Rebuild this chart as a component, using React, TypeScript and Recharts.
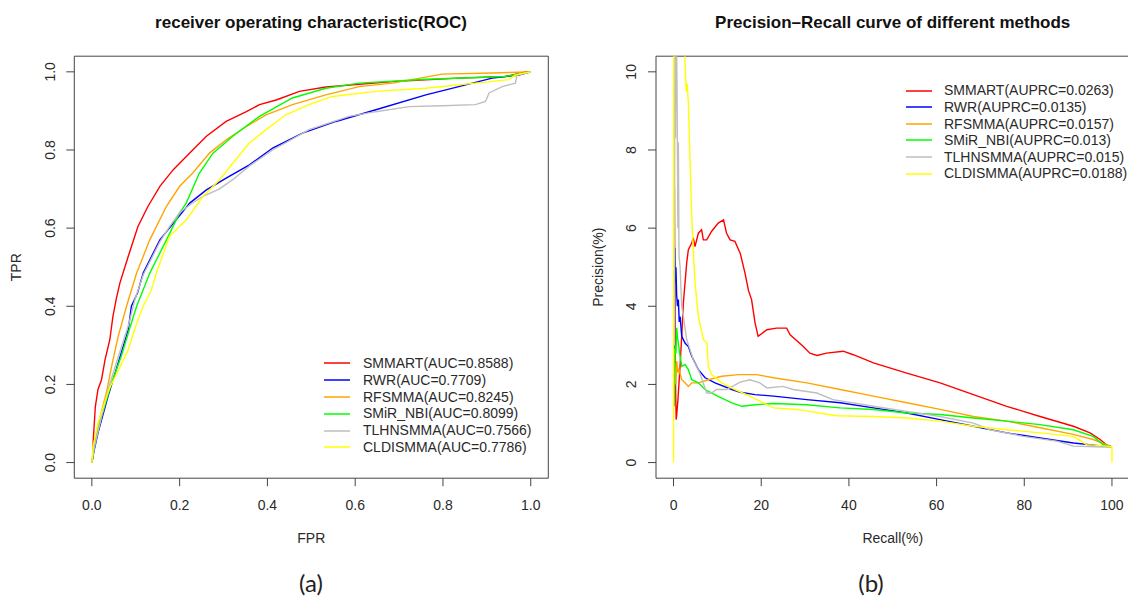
import React from 'react';
import { LineChart, Line, XAxis, YAxis, ReferenceArea, Legend } from 'recharts';

const FONT = '"Liberation Sans", Arial, Helvetica, sans-serif';

const methodNames = ['SMMART', 'RWR', 'RFSMMA', 'SMiR_NBI', 'TLHNSMMA', 'CLDISMMA'];
const methodColors = ['#FF0000', '#0000FF', '#FFA500', '#00FF00', '#BEBEBE', '#FFFF00'];
const aucValues = ['0.8588', '0.7709', '0.8245', '0.8099', '0.7566', '0.7786'];
const auprcValues = ['0.0263', '0.0135', '0.0157', '0.013', '0.015', '0.0188'];

const rocTicks = [0, 0.2, 0.4, 0.6, 0.8, 1.0];
const prXTicks = [0, 20, 40, 60, 80, 100];
const prYTicks = [0, 2, 4, 6, 8, 10];

// ROC curves: [FPR, TPR]
const rocSMMART = [[0,0],[0.003,0.02],[0.003,0.054],[0.008,0.144],[0.014,0.187],[0.022,0.212],[0.03,0.263],[0.041,0.315],[0.048,0.374],[0.056,0.421],[0.064,0.46],[0.083,0.528],[0.105,0.604],[0.128,0.656],[0.155,0.707],[0.185,0.749],[0.223,0.792],[0.261,0.835],[0.306,0.873],[0.352,0.898],[0.382,0.916],[0.42,0.928],[0.473,0.95],[0.533,0.961],[0.685,0.975],[0.836,0.984],[0.942,0.988],[0.988,1.0],[1,1]];
const rocRWR = [[0,0],[0.005,0.03],[0.014,0.076],[0.037,0.17],[0.06,0.255],[0.083,0.34],[0.09,0.4],[0.104,0.434],[0.117,0.485],[0.155,0.57],[0.192,0.621],[0.223,0.664],[0.261,0.698],[0.306,0.728],[0.359,0.762],[0.412,0.805],[0.48,0.843],[0.556,0.873],[0.647,0.903],[0.761,0.941],[0.836,0.962],[0.912,0.984],[0.973,0.992],[1,1]];
const rocRFSMMA = [[0,0],[0.005,0.05],[0.015,0.1],[0.033,0.178],[0.045,0.246],[0.06,0.323],[0.079,0.4],[0.102,0.485],[0.132,0.57],[0.17,0.656],[0.2,0.707],[0.23,0.741],[0.268,0.792],[0.306,0.826],[0.352,0.86],[0.397,0.89],[0.457,0.916],[0.533,0.941],[0.609,0.962],[0.685,0.971],[0.798,0.994],[0.912,0.997],[1,1]];
const rocSMiRNBI = [[0,0],[0.007,0.05],[0.022,0.118],[0.045,0.204],[0.067,0.272],[0.09,0.357],[0.102,0.4],[0.117,0.442],[0.132,0.485],[0.17,0.57],[0.2,0.639],[0.215,0.664],[0.245,0.741],[0.276,0.792],[0.321,0.835],[0.382,0.886],[0.457,0.933],[0.533,0.958],[0.609,0.971],[0.761,0.981],[0.942,0.988],[1,1]];
const rocTLHNSMMA = [[0,0],[0.005,0.035],[0.015,0.085],[0.037,0.187],[0.06,0.27],[0.083,0.35],[0.098,0.417],[0.117,0.48],[0.155,0.565],[0.177,0.604],[0.2,0.64],[0.23,0.665],[0.253,0.681],[0.29,0.7],[0.321,0.724],[0.36,0.76],[0.412,0.8],[0.495,0.852],[0.586,0.886],[0.647,0.898],[0.723,0.911],[0.798,0.913],[0.874,0.916],[0.897,0.924],[0.905,0.946],[0.935,0.962],[0.965,0.971],[0.969,0.992],[1,1]];
const rocCLDISMMA = [[0,0],[0.003,0.042],[0.014,0.101],[0.04,0.19],[0.06,0.235],[0.083,0.289],[0.09,0.315],[0.105,0.366],[0.117,0.4],[0.136,0.442],[0.147,0.485],[0.177,0.579],[0.215,0.621],[0.253,0.681],[0.291,0.724],[0.321,0.766],[0.359,0.818],[0.397,0.852],[0.442,0.89],[0.495,0.916],[0.548,0.937],[0.647,0.95],[0.761,0.958],[0.874,0.971],[0.95,0.98],[0.965,0.992],[1,1]];

// PR curves: [Recall %, Precision %]
const prSMMART = [[0.15,1.44],[0.2,7.05],[0.3,4.0],[0.45,2.0],[0.6,1.1],[0.75,1.25],[1.0,1.6],[1.48,2.46],[1.9,3.3],[2.24,4.08],[3.0,5.11],[3.38,5.45],[4.15,5.62],[4.5,5.75],[4.9,5.53],[5.66,5.87],[6.4,5.96],[6.8,5.7],[7.56,5.7],[8.7,5.92],[10.2,6.13],[11.4,6.21],[12.1,5.87],[12.9,5.7],[14.0,5.66],[15.2,5.36],[16.3,4.85],[17.1,4.4],[17.8,4.17],[18.6,3.57],[19.3,3.23],[21.3,3.4],[23.5,3.44],[25.8,3.44],[26.6,3.27],[29.6,2.97],[31.1,2.8],[32.7,2.74],[34.9,2.8],[38.7,2.85],[41.0,2.76],[45.6,2.55],[53.2,2.29],[60.8,2.04],[68.4,1.74],[76.0,1.44],[83.6,1.18],[91.2,0.93],[95.0,0.76],[97.3,0.59],[98.8,0.45],[100,0.4]];
const prRWR = [[0.2,2.0],[0.3,5.5],[0.4,4.6],[0.55,5.0],[0.7,4.3],[0.9,4.0],[1.1,4.17],[1.3,3.6],[1.5,3.74],[1.87,3.23],[2.62,3.06],[3.38,2.97],[4.15,2.72],[5.66,2.38],[7.2,2.17],[9.46,2.04],[13.3,1.87],[15.2,1.8],[18.6,1.74],[22.8,1.7],[30.4,1.61],[38.0,1.53],[45.6,1.4],[53.2,1.27],[60.8,1.1],[68.4,0.93],[76.0,0.76],[83.6,0.63],[91.2,0.5],[98.0,0.42],[100,0.4]];
const prRFSMMA = [[0.2,1.6],[0.25,2.9],[0.34,2.4],[0.5,2.0],[0.73,2.6],[1.0,2.3],[1.25,2.38],[1.87,2.12],[2.62,2.04],[3.38,1.95],[4.15,2.04],[5.66,2.04],[7.94,2.12],[11.0,2.21],[14.8,2.25],[19.0,2.25],[22.8,2.17],[30.4,2.04],[38.0,1.87],[45.6,1.7],[53.2,1.53],[60.8,1.36],[68.4,1.18],[76.0,1.06],[83.6,0.89],[91.2,0.72],[95.7,0.59],[98.8,0.45],[100,0.4]];
const prSMiRNBI = [[0.15,1.44],[0.25,2.6],[0.4,3.0],[0.55,2.8],[0.73,3.45],[0.9,3.2],[1.1,3.06],[1.5,2.72],[1.87,2.46],[2.62,2.51],[3.38,2.38],[4.15,2.12],[5.66,2.04],[7.2,1.87],[8.7,1.78],[11.0,1.65],[13.3,1.53],[15.6,1.44],[18.6,1.48],[22.8,1.51],[30.4,1.48],[38.0,1.4],[45.6,1.36],[53.2,1.27],[60.8,1.23],[68.4,1.14],[76.0,1.06],[83.6,0.97],[91.2,0.84],[95.7,0.67],[98.0,0.46],[100,0.4]];
const prTLHNSMMA = [[0.2,3.0],[0.3,12],[0.45,8.3],[0.6,12],[0.8,9.5],[1.0,6.0],[1.1,8.2],[1.25,5.3],[1.5,5.0],[1.86,4.0],[2.24,3.74],[3.0,3.15],[3.76,2.89],[4.5,2.63],[6.0,2.29],[7.56,1.78],[8.7,1.78],[9.8,1.87],[12.1,1.87],[15.2,2.06],[17.4,2.12],[19.7,2.04],[21.3,1.91],[25.0,1.95],[27.3,1.87],[32.7,1.78],[36.4,1.61],[45.6,1.44],[53.2,1.31],[60.8,1.18],[68.4,1.01],[72.2,0.84],[79.8,0.67],[87.4,0.55],[91.2,0.42],[98.0,0.4],[100,0.4]];
const prCLDISMMA = [[0,0],[0.05,12],[2.4,12],[2.6,10.3],[2.9,9.5],[3.1,9.7],[3.38,9.2],[3.76,7.75],[4.15,6.3],[4.5,5.45],[4.9,4.6],[5.66,3.74],[6.8,3.15],[7.6,3.06],[7.94,2.46],[8.7,2.25],[11.0,2.04],[14.0,1.87],[17.4,1.7],[19.7,1.57],[22.8,1.4],[28.1,1.36],[37.2,1.2],[45.6,1.18],[53.2,1.14],[60.8,1.06],[68.4,0.93],[76.0,0.84],[83.6,0.76],[91.2,0.67],[94.2,0.46],[98.8,0.42],[100,0.4],[100,0]];

const rocSeries = [rocSMMART, rocRWR, rocRFSMMA, rocSMiRNBI, rocTLHNSMMA, rocCLDISMMA];
const prSeries = [prSMMART, prRWR, prRFSMMA, prSMiRNBI, prTLHNSMMA, prCLDISMMA];

const toPts = (arr: number[][]) => arr.map(([x, y]) => ({ x, y }));

const AXIS_COLOR = '#444';
const TEXT_COLOR = '#2a2a2a';
const TOP = 56.2;
const BOTTOM = 478.2;
const H = 601;

const makeLegend = (labels: string[], rowH: number, gap: number) => () => (
  <div style={{ fontFamily: FONT, fontSize: 14, color: TEXT_COLOR }}>
    {labels.map((lab, i) => (
      <div key={i} style={{ height: rowH, display: 'flex', alignItems: 'center', whiteSpace: 'nowrap' }}>
        <svg width={26} height={4} style={{ marginRight: gap, display: 'block' }}>
          <line x1={0} y1={2} x2={26} y2={2} stroke={methodColors[i]} strokeWidth={1.5} />
        </svg>
        <span style={{ lineHeight: rowH + 'px' }}>{lab}</span>
      </div>
    ))}
  </div>
);

interface PanelProps {
  width: number;
  plotLeft: number;
  plotRight: number;
  xDomain: [number, number];
  yDomain: [number, number];
  xTicks: number[];
  yTicks: number[];
  fmt: (v: number) => string;
  series: number[][][];
  xLabel: string;
  yLabel: string;
  legendLabels: string[];
  legendLeft: number;
  legendTop: number;
  legendRowH: number;
  legendGap: number;
}

const Panel = (p: PanelProps) => {
  const yAxisW = 60;
  const xAxisH = 60;
  const cx = (p.plotLeft + p.plotRight) / 2;
  const cy = (TOP + BOTTOM) / 2;
  const yLabelX = p.plotLeft - 24.5;
  const yTitleX = p.plotLeft - 58;
  return (
    <LineChart
      width={p.width}
      height={H}
      margin={{ top: TOP, bottom: H - BOTTOM - xAxisH, left: p.plotLeft - yAxisW, right: p.width - p.plotRight }}
    >
      <XAxis
        type="number"
        dataKey="x"
        domain={p.xDomain}
        ticks={p.xTicks}
        allowDataOverflow
        height={xAxisH}
        axisLine={false}
        tickSize={8}
        tickLine={{ stroke: AXIS_COLOR }}
        tick={(tp: any) => (
          <text x={tp.x} y={505} textAnchor="middle" dominantBaseline="central" fontSize={14} fill={TEXT_COLOR} fontFamily={FONT}>
            {p.fmt(tp.payload.value)}
          </text>
        )}
        label={{
          content: () => (
            <text x={cx} y={538} textAnchor="middle" dominantBaseline="central" fontSize={14} fill={TEXT_COLOR} fontFamily={FONT}>
              {p.xLabel}
            </text>
          ),
        }}
      />
      <YAxis
        type="number"
        domain={p.yDomain}
        ticks={p.yTicks}
        allowDataOverflow
        width={yAxisW}
        axisLine={false}
        tickSize={8}
        tickLine={{ stroke: AXIS_COLOR }}
        tick={(tp: any) => (
          <text
            x={yLabelX}
            y={tp.y}
            transform={`rotate(-90, ${yLabelX}, ${tp.y})`}
            textAnchor="middle"
            dominantBaseline="central"
            fontSize={14}
            fill={TEXT_COLOR}
            fontFamily={FONT}
          >
            {p.fmt(tp.payload.value)}
          </text>
        )}
        label={{
          content: () => (
            <text
              x={yTitleX}
              y={cy}
              transform={`rotate(-90, ${yTitleX}, ${cy})`}
              textAnchor="middle"
              dominantBaseline="central"
              fontSize={14}
              fill={TEXT_COLOR}
              fontFamily={FONT}
            >
              {p.yLabel}
            </text>
          ),
        }}
      />
      <ReferenceArea
        x1={p.xDomain[0]}
        x2={p.xDomain[1]}
        y1={p.yDomain[0]}
        y2={p.yDomain[1]}
        fill="none"
        fillOpacity={0}
        stroke={AXIS_COLOR}
        strokeWidth={1}
        ifOverflow="visible"
      />
      {p.series.map((s, i) => (
        <Line
          key={methodNames[i]}
          name={methodNames[i]}
          data={toPts(s)}
          dataKey="y"
          type="linear"
          stroke={methodColors[i]}
          strokeWidth={1.4}
          dot={false}
          activeDot={false}
          isAnimationActive={false}
        />
      ))}
      <Legend
        layout="vertical"
        align="center"
        verticalAlign="middle"
        content={makeLegend(p.legendLabels, p.legendRowH, p.legendGap)}
        wrapperStyle={{ left: p.legendLeft, top: p.legendTop, width: 'auto', height: 'auto' }}
      />
    </LineChart>
  );
};

const titleStyle: React.CSSProperties = {
  position: 'absolute',
  top: 12,
  fontFamily: FONT,
  fontWeight: 'bold',
  fontSize: 17,
  color: '#111',
  whiteSpace: 'nowrap',
  transform: 'translateX(-50%)',
  lineHeight: '22px',
};

const capStyle: React.CSSProperties = {
  position: 'absolute',
  top: 568,
  fontFamily: 'Lato, "Open Sans", sans-serif',
  fontSize: 24,
  color: '#222',
  whiteSpace: 'nowrap',
  transform: 'translateX(-50%)',
  lineHeight: '30px',
};

export default function App() {
  const rocLegend = methodNames.map((n, i) => `${n}(AUC=${aucValues[i]})`);
  const prLegend = methodNames.map((n, i) => `${n}(AUPRC=${auprcValues[i]})`);
  return (
    <div style={{ position: 'fixed', left: 0, top: 0, width: 1128, height: 601, overflow: 'hidden', background: '#fff' }}>
      <div style={{ position: 'absolute', left: 0, top: 0 }}>
        <Panel
          width={564}
          plotLeft={74.3}
          plotRight={548.3}
          xDomain={[-0.04, 1.04]}
          yDomain={[-0.04, 1.04]}
          xTicks={rocTicks}
          yTicks={rocTicks}
          fmt={(v) => v.toFixed(1)}
          series={rocSeries}
          xLabel="FPR"
          yLabel="TPR"
          legendLabels={rocLegend}
          legendLeft={324}
          legendTop={355}
          legendRowH={16.8}
          legendGap={13}
        />
      </div>
      <div style={{ position: 'absolute', left: 564, top: 0 }}>
        <Panel
          width={570}
          plotLeft={92}
          plotRight={565.5}
          xDomain={[-4, 104]}
          yDomain={[-0.4, 10.4]}
          xTicks={prXTicks}
          yTicks={prYTicks}
          fmt={(v) => String(v)}
          series={prSeries}
          xLabel="Recall(%)"
          yLabel="Precision(%)"
          legendLabels={prLegend}
          legendLeft={342}
          legendTop={82.4}
          legendRowH={16.6}
          legendGap={12}
        />
      </div>
      <div style={{ ...titleStyle, left: 311 }}>receiver operating characteristic(ROC)</div>
      <div style={{ ...titleStyle, left: 892.7 }}>Precision–Recall curve of different methods</div>
      <div style={{ ...capStyle, left: 311 }}>(a)</div>
      <div style={{ ...capStyle, left: 871 }}>(b)</div>
    </div>
  );
}
